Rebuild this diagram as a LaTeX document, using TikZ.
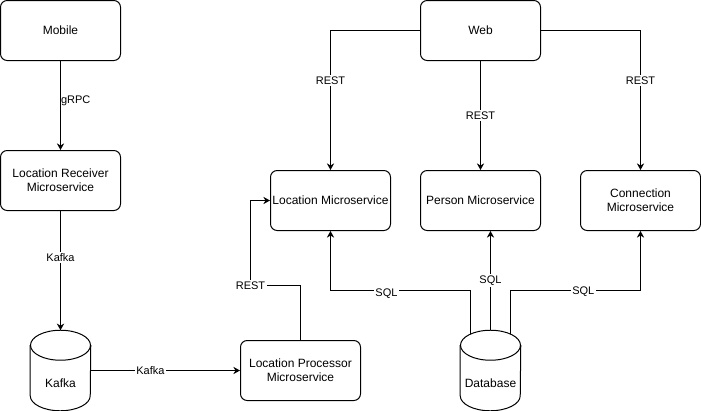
\documentclass[tikz,border=0pt]{standalone}
\usepackage{fontspec}
\setmainfont{Liberation Sans}
\usetikzlibrary{arrows.meta}

\tikzstyle{service}=[draw, line width=0.75pt, rounded corners=5pt, minimum width=90pt, minimum height=45pt, inner sep=1pt, align=center, font=\fontsize{9}{10.5}\selectfont]
\tikzstyle{store}=[minimum width=45pt, minimum height=60pt, inner sep=0pt, font=\fontsize{9}{10.5}\selectfont]
\tikzstyle{link}=[line width=0.75pt, -{Stealth[length=5pt, width=5.5pt]}]
\tikzstyle{link-label}=[fill=white, inner sep=1pt, font=\fontsize{8.25}{10}\selectfont]

% cylinder outline round a store node
\newcommand{\drawstore}[1]{%
  \draw[line width=0.75pt] ([yshift=-11.25pt]#1.north) ellipse [x radius=22.5pt, y radius=11.25pt];
  \draw[line width=0.75pt] ([yshift=-11.25pt]#1.north west) -- ([yshift=11.25pt]#1.south west)
    arc[start angle=180, end angle=360, x radius=22.5pt, y radius=11.25pt]
    -- ([yshift=-11.25pt]#1.north east);
}

\begin{document}
\begin{tikzpicture}[x=0.75pt, y=-0.75pt]
  \useasboundingbox (-0.5,-0.5) rectangle (700.5,410.5);

  \node (service-mobile)     at (60, 30)  [service] {Mobile};
  \node (service-receiver)   at (60, 180) [service] {Location Receiver\\Microservice};
  \node (store-kafka)        at (60, 370) [store] {\raisebox{-13pt}[0pt][0pt]{Kafka}};
  \node (service-processor)  at (300, 370) [service] {Location Processor\\Microservice};

  \node (service-web)        at (480, 30)  [service] {Web};
  \node (service-location)   at (330, 200) [service] {Location Microservice};
  \node (service-person)     at (480, 200) [service] {Person Microservice};
  \node (service-connection) at (640, 200) [service] {Connection\\Microservice};
  \node (store-database)     at (490, 370) [store] {\raisebox{-13pt}[0pt][0pt]{Database}};

  \drawstore{store-kafka}
  \drawstore{store-database}

  \coordinate (bend-rest)      at (250, 285);
  \coordinate (bend-sql-left)  at (330, 290);
  \coordinate (bend-sql-right) at (640, 290);

  % left column
  \draw[link] (service-mobile) -- node[link-label, fill=none, anchor=west, pos=0.45, inner sep=0pt] {gRPC} (service-receiver);
  \draw[link] (service-receiver) -- node[link-label, pos=0.39] {Kafka} (store-kafka);
  \draw[link] (store-kafka.east) -- node[link-label, pos=0.4] {Kafka} (service-processor.west);
  \draw[link] (service-processor.north) |- (bend-rest) node[link-label] {REST} |- (service-location.west);

  % web
  \draw[link] (service-web.west) -| node[link-label, pos=0.68] {REST} (service-location.north);
  \draw[link] (service-web) -- node[link-label, pos=0.5] {REST} (service-person);
  \draw[link] (service-web.east) -| node[link-label, pos=0.68] {REST} (service-connection.north);

  % database
  \draw[link] ([xshift=-15pt, yshift=-2.85pt]store-database.north) |- (bend-sql-left) node[link-label, pos=0.8, yshift=-2.5pt] {SQL} -- (service-location.south);
  \draw[link] (store-database.north) -- node[link-label, pos=0.5] {SQL} (store-database.north |- service-person.south);
  \draw[link] ([xshift=15pt, yshift=-2.85pt]store-database.north) |- node[link-label, pos=0.78, yshift=-1pt] {SQL} (bend-sql-right) -- (service-connection.south);
\end{tikzpicture}
\end{document}
